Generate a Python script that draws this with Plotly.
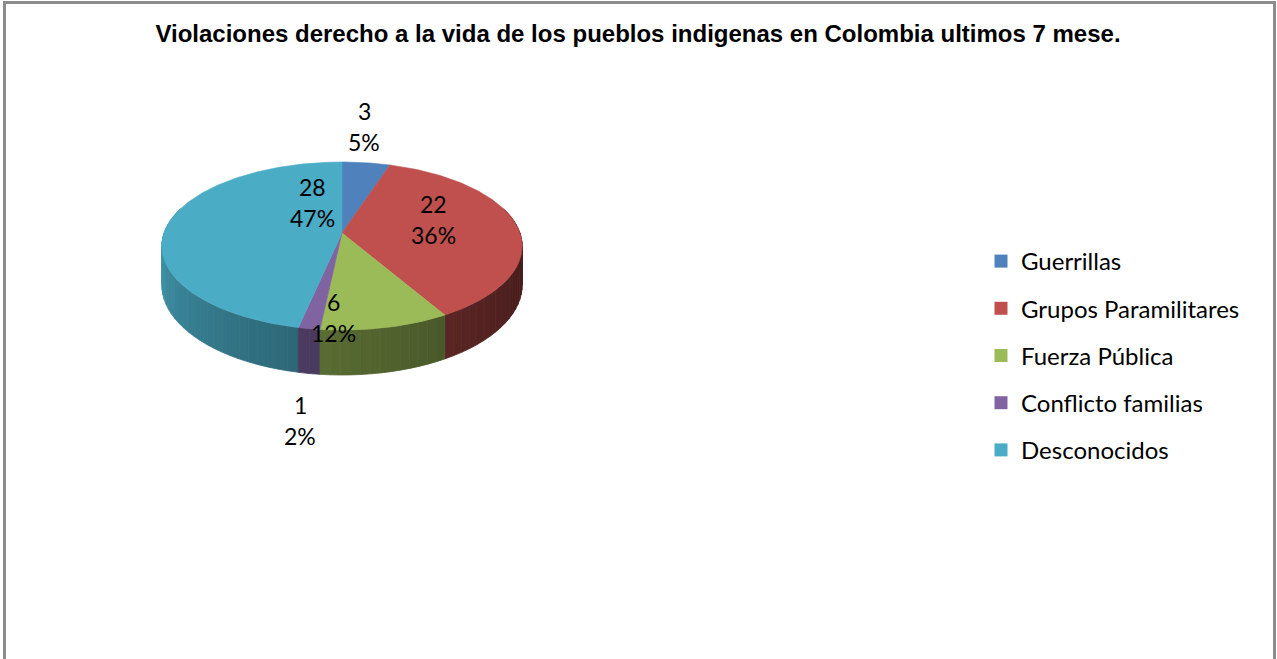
import numpy as np
import plotly.graph_objects as go

# ---------------- data ----------------
categories = ["Guerrillas", "Grupos Paramilitares", "Fuerza Pública",
              "Conflicto familias", "Desconocidos"]
values = [3, 22, 6, 1, 28]
percent_labels = ["5%", "36%", "12%", "2%", "47%"]
colors = ["#4F81BD", "#C0504D", "#9BBB59", "#8064A2", "#4BACC6"]
title_text = "Violaciones derecho a la vida de los pueblos indigenas en Colombia ultimos 7 mese."

# ---------------- layout constants (pixel space of the plot area) ----------------
W, H = 1277, 659
CX, AY = 342.0, 233.0     # projected pie centre
R = 178.0                 # radius
RK = 82.0                 # vertical radius (tilt)
P = 0.155                 # perspective strength
DEPTH = 38.0              # thickness
label_pos = [(364, 111), (433, 204), (333, 302), (300, 405), (312, 187)]
LINE_GAP = 31
FONT = "Lato, Calibri, Carlito, sans-serif"


def proj(theta_deg, drop=0.0):
    th = np.radians(theta_deg)
    X = np.sin(th)
    Z = -np.cos(th)
    s = 1.0 / (1.0 - P * Z)
    return CX + R * X * s, AY + RK * Z * s + drop * s


def hex_to_rgb(h):
    h = h.lstrip("#")
    return tuple(int(h[i:i + 2], 16) for i in (0, 2, 4))


def shade(hexcol, f):
    r, g, b = hex_to_rgb(hexcol)
    return "rgb(%d,%d,%d)" % (int(r * f), int(g * f), int(b * f))


total = float(sum(values))
bounds = np.concatenate([[0.0], np.cumsum(values)]) / total * 360.0

fig = go.Figure()

# ---- side walls (painter's order, back to front) ----
segments = []
for i, col in enumerate(colors):
    a0, a1 = bounds[i], bounds[i + 1]
    n = max(1, int(np.ceil((a1 - a0) / 3.0)))
    edges = np.linspace(a0, a1, n + 1)
    for a, b in zip(edges[:-1], edges[1:]):
        mid = 0.5 * (a + b)
        zmid = -np.cos(np.radians(mid))
        if zmid < -0.3:
            continue
        t = np.clip((mid - 90.0) / 180.0, 0.0, 1.0)
        f = 0.36 + 0.54 * t ** 1.4
        segments.append((zmid, a, b, shade(col, f)))
segments.sort(key=lambda s: s[0])
for zmid, a, b, c in segments:
    th = np.linspace(a, b, 4)
    xt, yt = proj(th)
    xb, yb = proj(th[::-1], DEPTH)
    xs = np.concatenate([xt, xb, xt[:1]])
    ys = np.concatenate([yt, yb, yt[:1]])
    fig.add_trace(go.Scatter(x=xs, y=ys, mode="lines", fill="toself",
                             fillcolor=c, line=dict(color=c, width=0.8),
                             hoverinfo="skip", showlegend=False))

# ---- top faces ----
for i, col in enumerate(colors):
    a0, a1 = bounds[i], bounds[i + 1]
    th = np.linspace(a0, a1, max(3, int((a1 - a0) / 1.0) + 2))
    xa, ya = proj(th)
    xs = np.concatenate([[CX], xa, [CX]])
    ys = np.concatenate([[AY], ya, [AY]])
    fig.add_trace(go.Scatter(x=xs, y=ys, mode="lines", fill="toself",
                             fillcolor=col, line=dict(color=col, width=0.6),
                             name=categories[i], hoverinfo="name",
                             showlegend=False))

# ---- legend entries ----
for i, col in enumerate(colors):
    fig.add_trace(go.Scatter(x=[None], y=[None], mode="markers",
                             marker=dict(symbol="square", size=13, color=col),
                             name=categories[i], legendgroup="g%d" % i,
                             showlegend=True))

# ---- data labels ----
annotations = []
for i in range(len(values)):
    lx, ly = label_pos[i]
    annotations.append(dict(x=lx, y=ly, xref="x", yref="y", text=str(values[i]),
                            showarrow=False, font=dict(family=FONT, size=23, color="#000000"),
                            xanchor="center", yanchor="middle"))
    annotations.append(dict(x=lx, y=ly + LINE_GAP, xref="x", yref="y", text=percent_labels[i],
                            showarrow=False, font=dict(family=FONT, size=23, color="#000000"),
                            xanchor="center", yanchor="middle"))

fig.update_layout(
    width=W, height=H, autosize=False,
    margin=dict(l=0, r=0, t=0, b=0),
    paper_bgcolor="white", plot_bgcolor="white",
    xaxis=dict(range=[0, W], visible=False, fixedrange=True),
    yaxis=dict(range=[H, 0], visible=False, fixedrange=True),
    title=dict(text="<b>" + title_text + "</b>", x=638 / W, xanchor="center",
               y=1 - 34 / H, yanchor="middle",
               font=dict(family="Liberation Sans, Arial", size=24, color="#000000")),
    legend=dict(x=981 / W, y=1 - 239 / H, xanchor="left", yanchor="top",
                font=dict(family=FONT, size=24, color="#000000"),
                tracegroupgap=13, bgcolor="rgba(0,0,0,0)"),
    annotations=annotations,
    shapes=[dict(type="rect", xref="paper", yref="paper",
                 x0=4.5 / W, x1=1274.5 / W, y0=-0.05, y1=1 - 2.5 / H,
                 line=dict(color="#8C8C8C", width=3), fillcolor="rgba(0,0,0,0)")],
    showlegend=True,
)

fig.write_html("out.html", config={"displayModeBar": False},
               post_script="document.body.style.margin='0';")
